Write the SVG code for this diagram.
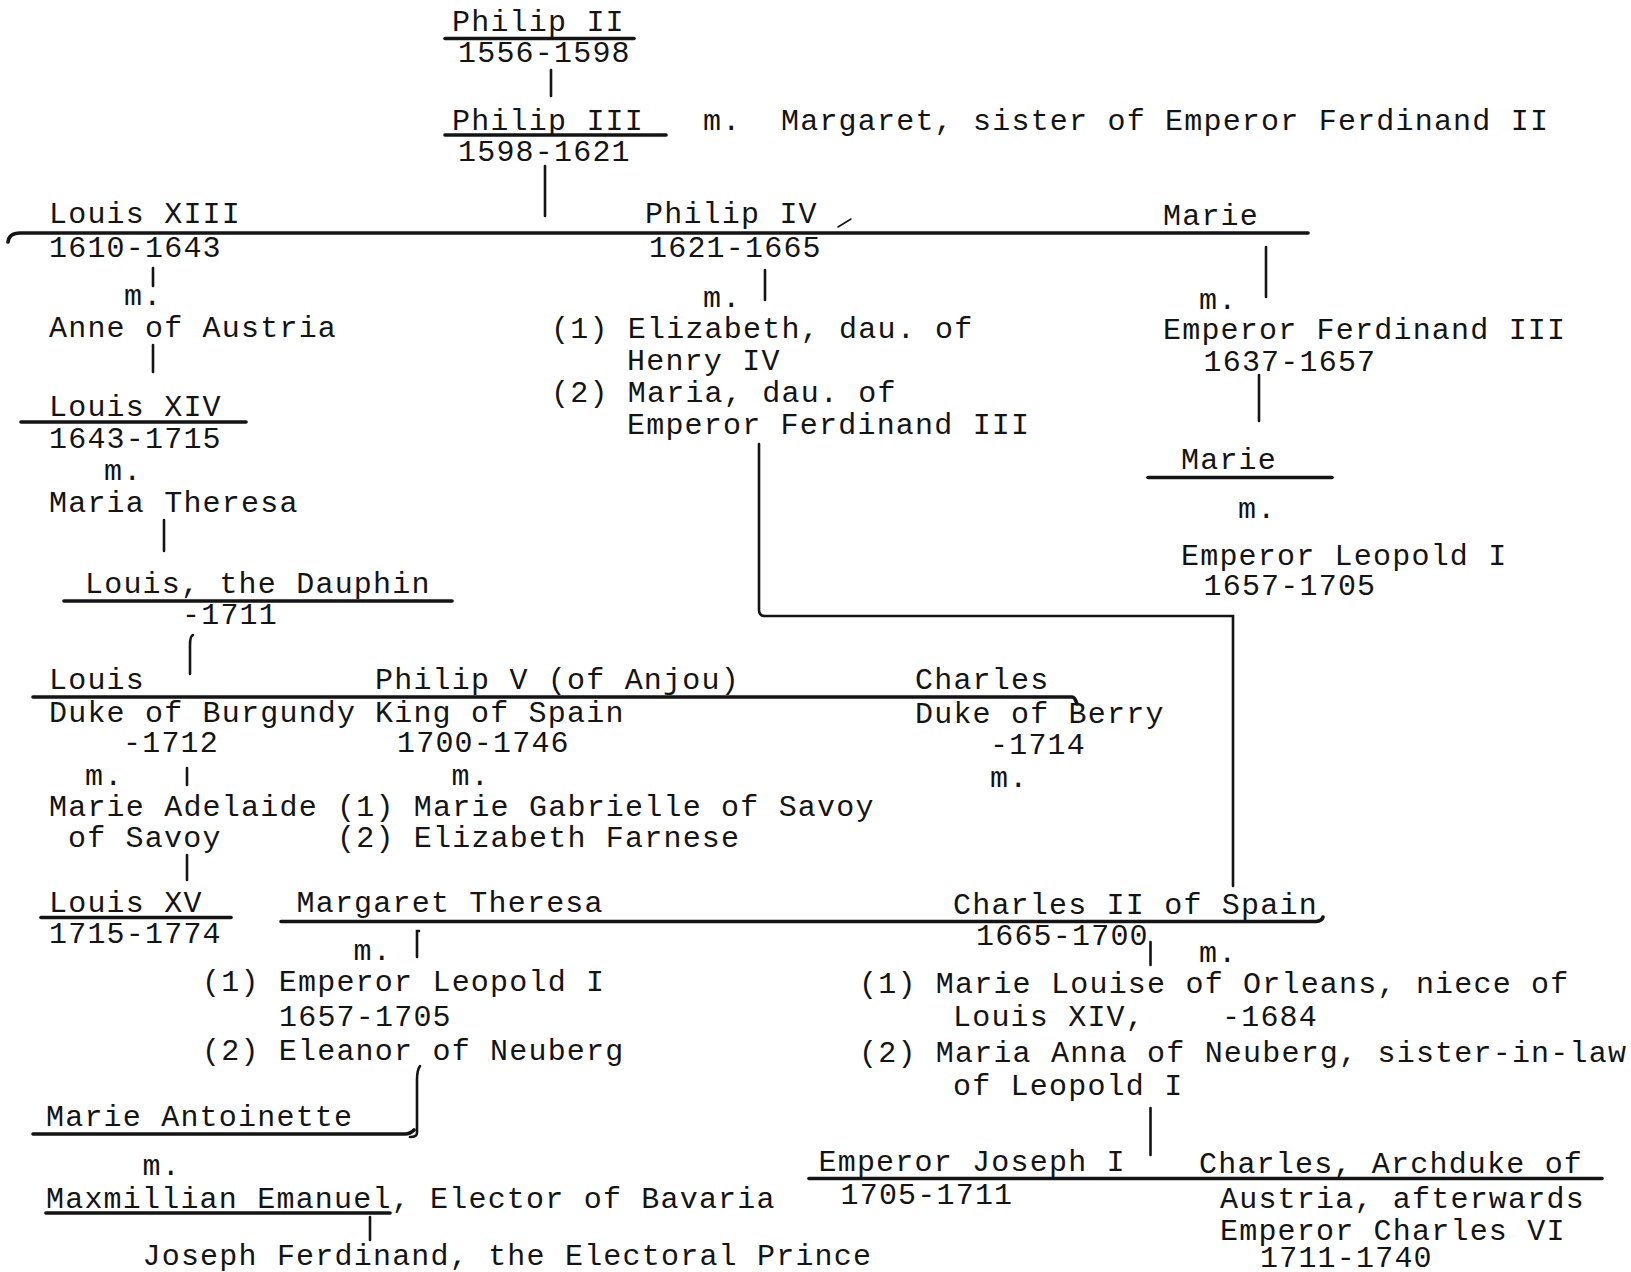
<svg xmlns="http://www.w3.org/2000/svg" width="1631" height="1272" viewBox="0 0 1631 1272">
<style>
text{font-family:"Liberation Mono","DejaVu Sans Mono",monospace;font-size:30px;letter-spacing:1.2px;fill:#141414}
.ln{stroke:#141414;stroke-width:3.6;fill:none;stroke-linecap:round}
.vl{stroke:#141414;stroke-width:2.6;fill:none;stroke-linecap:round}
</style>
<rect width="1631" height="1272" fill="#ffffff"/>
<g id="connectors">
<path class="ln" d="M445 38.5H634"/>
<path class="vl" d="M551 70V96"/>
<path class="ln" d="M445 135H666"/>
<path class="vl" d="M545 166V216"/>
<path class="ln" d="M8 242Q9 233 20 233H1308"/>
<path class="vl" d="M838 227L851 219" style="stroke-width:1.5"/>
<path class="vl" d="M153 268V286"/>
<path class="vl" d="M765 270V300"/>
<path class="vl" d="M1266 247V297"/>
<path class="vl" d="M153 345V372"/>
<path class="vl" d="M1259 375V421"/>
<path class="ln" d="M21 422H246"/>
<path class="vl" d="M164 520V551"/>
<path class="ln" d="M64 601H452"/>
<path class="vl" d="M193 635Q190 636 190 645V674"/>
<path class="ln" d="M1148 477.5H1332"/>
<path class="vl" d="M759 444V610Q759 616 765 616H1233V886"/>
<path class="ln" d="M33 697H1072Q1075 697 1077 704"/>
<path class="vl" d="M187 768V785"/>
<path class="vl" d="M187 855V880"/>
<path class="ln" d="M41 917.5H231"/>
<path class="ln" d="M281 921.5H1316Q1322 921 1323 917"/>
<path class="vl" d="M419 931H417V957"/>
<path class="vl" d="M1150.5 942V965"/>
<path class="vl" d="M420 1066Q417 1070 417 1080V1133Q417 1137 410 1137"/>
<path class="ln" d="M33 1134H405Q410 1134 414 1130"/>
<path class="vl" d="M1150.5 1108V1155"/>
<path class="ln" d="M809 1178.5H1602"/>
<path class="ln" d="M46 1213H390"/>
<path class="vl" d="M370 1217V1240"/>
</g>
<g id="philip-ii"><text x="452" y="31">Philip II</text><text x="458" y="62">1556-1598</text></g>
<g id="philip-iii"><text x="452" y="129.5">Philip III</text><text x="458" y="161">1598-1621</text><text x="703" y="129.5">m.</text></g>
<g id="margaret"><text x="781" y="129.5">Margaret, sister of Emperor Ferdinand II</text></g>
<g id="louis-xiii"><text x="49" y="223">Louis XIII</text><text x="49" y="256.5">1610-1643</text><text x="124" y="305">m.</text></g>
<g id="anne"><text x="49" y="336.5">Anne of Austria</text></g>
<g id="philip-iv"><text x="645" y="223">Philip IV</text><text x="649" y="256.5">1621-1665</text><text x="703" y="306.5">m.</text></g>
<g id="philip-iv-wives"><text x="551" y="337.5">(1) Elizabeth, dau. of</text><text x="627" y="370">Henry IV</text><text x="551" y="402">(2) Maria, dau. of</text><text x="627" y="434">Emperor Ferdinand III</text></g>
<g id="marie-1"><text x="1163" y="225">Marie</text><text x="1199" y="308.5">m.</text></g>
<g id="ferdinand-iii"><text x="1163" y="338.5">Emperor Ferdinand III</text><text x="1203.5" y="371">1637-1657</text></g>
<g id="louis-xiv"><text x="49" y="415.5">Louis XIV</text><text x="49" y="448">1643-1715</text><text x="104" y="480">m.</text></g>
<g id="maria-theresa"><text x="49" y="512">Maria Theresa</text></g>
<g id="marie-2"><text x="1181" y="468.5">Marie</text><text x="1238" y="517.5">m.</text></g>
<g id="leopold-i"><text x="1181" y="564.5">Emperor Leopold I</text><text x="1203.5" y="594.5">1657-1705</text></g>
<g id="dauphin"><text x="85" y="592.5">Louis, the Dauphin</text><text x="182" y="623.5">-1711</text></g>
<g id="louis-burgundy"><text x="49" y="689">Louis</text><text x="49" y="721.5">Duke of Burgundy</text><text x="123" y="751.5">-1712</text><text x="85" y="785">m.</text></g>
<g id="marie-adelaide"><text x="49" y="816">Marie Adelaide</text><text x="68" y="847">of Savoy</text></g>
<g id="philip-v"><text x="375" y="689">Philip V (of Anjou)</text><text x="375" y="721.5">King of Spain</text><text x="397" y="751.5">1700-1746</text><text x="451.5" y="785">m.</text></g>
<g id="philip-v-wives"><text x="337" y="816">(1) Marie Gabrielle of Savoy</text><text x="337" y="847">(2) Elizabeth Farnese</text></g>
<g id="charles-berry"><text x="915" y="689">Charles</text><text x="915" y="722.5">Duke of Berry</text><text x="990" y="753.5">-1714</text><text x="990" y="787">m.</text></g>
<g id="louis-xv"><text x="49" y="912">Louis XV</text><text x="49" y="943">1715-1774</text></g>
<g id="margaret-theresa"><text x="296.5" y="912">Margaret Theresa</text><text x="353.5" y="959.5">m.</text></g>
<g id="margaret-theresa-husbands"><text x="202" y="991">(1) Emperor Leopold I</text><text x="279" y="1026">1657-1705</text><text x="202" y="1059.5">(2) Eleanor of Neuberg</text></g>
<g id="charles-ii"><text x="953" y="914">Charles II of Spain</text><text x="976" y="945">1665-1700</text><text x="1199" y="962">m.</text></g>
<g id="charles-ii-wives"><text x="859" y="993">(1) Marie Louise of Orleans, niece of</text><text x="953" y="1026">Louis XIV,</text><text x="1222" y="1026">-1684</text><text x="859" y="1061.5">(2) Maria Anna of Neuberg, sister-in-law</text><text x="953" y="1095">of Leopold I</text></g>
<g id="marie-antoinette"><text x="46" y="1126">Marie Antoinette</text><text x="142.5" y="1175">m.</text></g>
<g id="maximilian"><text x="46" y="1208">Maxmillian Emanuel, Elector of Bavaria</text></g>
<g id="joseph-ferdinand"><text x="142.5" y="1265">Joseph Ferdinand, the Electoral Prince</text></g>
<g id="joseph-i"><text x="818.5" y="1171">Emperor Joseph I</text><text x="840.5" y="1204">1705-1711</text></g>
<g id="charles-vi"><text x="1199" y="1173">Charles, Archduke of</text><text x="1220" y="1208">Austria, afterwards</text><text x="1220" y="1240">Emperor Charles VI</text><text x="1260" y="1267">1711-1740</text></g>
</svg>
